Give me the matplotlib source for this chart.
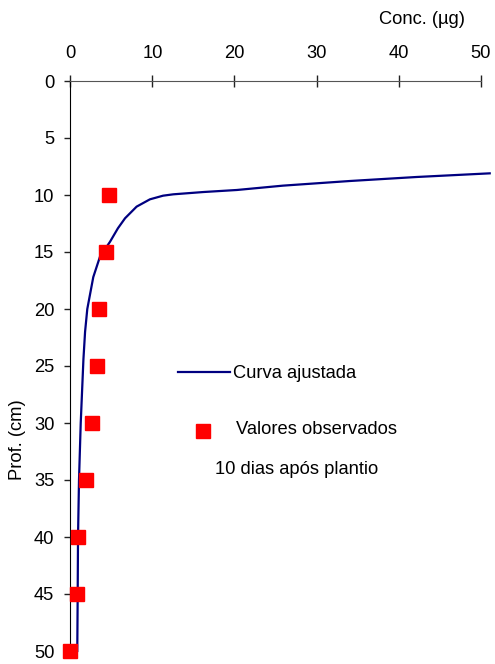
import matplotlib.pyplot as plt
from matplotlib.lines import Line2D

plt.rcParams['font.family'] = ['Liberation Sans', 'DejaVu Sans']

# observed values
obs_depth = [10, 15, 20, 25, 30, 35, 40, 45, 50]
obs_conc = [4.7, 4.3, 3.5, 3.3, 2.7, 1.95, 0.94, 0.85, 0.0]

# fitted curve
fit_depth = [8.1, 8.42, 8.77, 9.18, 9.56, 9.74, 9.94, 10.06, 10.38, 11.02,
             12.04, 12.92, 14.1, 15.4, 17.2, 20, 22, 24.4, 30, 35, 40, 45, 50]
fit_conc = [51.1, 42.2, 34.1, 25.9, 20.3, 16.2, 12.55, 11.3, 9.7, 8.08,
            6.67, 5.8, 4.84, 3.62, 2.8, 2.07, 1.8, 1.6, 1.27, 1.06, 0.94, 0.9, 0.85]

xticks = [0, 10, 20, 30, 40, 50]
yticks = [0, 5, 10, 15, 20, 25, 30, 35, 40, 45, 50]

FS = 13.2
W, H = 495, 664
fig = plt.figure(figsize=(W / 100, H / 100), dpi=100)
ax = fig.add_axes([70.3 / W, 1 - 651 / H, (480.7 - 70.3) / W, (651 - 81) / H])

ax.plot(fit_conc, fit_depth, color='#000080', lw=1.6, clip_on=False, zorder=3)
ax.plot(obs_conc, obs_depth, 's', color='#ff0000', ms=10.5, mec='#ff0000',
        clip_on=False, zorder=4, linestyle='none')

ax.set_xlim(0, 50)
ax.set_ylim(50, 0)
ax.xaxis.tick_top()
ax.set_xticks(xticks)
ax.set_yticks(yticks)
ax.tick_params(axis='x', direction='inout', length=8, width=1, pad=9.5,
               labelsize=FS, color='#222222')
ax.tick_params(axis='y', direction='out', length=4, width=1, pad=7.5,
               labelsize=FS, color='#222222')
for s in ['right', 'bottom']:
    ax.spines[s].set_visible(False)
ax.spines['top'].set_color('#555555')
ax.spines['left'].set_color('black')

fig.text(465 / W, 1 - 20 / H, 'Conc. (µg)', ha='right', va='center', fontsize=FS)
fig.text(18 / W, 1 - 440 / H, 'Prof. (cm)', ha='center', va='center',
         rotation=90, fontsize=FS)

# legend drawn by hand
fig.add_artist(Line2D([178 / W, 230 / W], [1 - 372 / H, 1 - 372 / H],
                      color='#000080', lw=1.6))
fig.text(233 / W, 1 - 373 / H, 'Curva ajustada', ha='left', va='center', fontsize=FS)
fig.add_artist(Line2D([203 / W], [1 - 431 / H], marker='s', color='#ff0000',
                      ms=10.5, linestyle='none'))
fig.text(236 / W, 1 - 430 / H, 'Valores observados', ha='left', va='center', fontsize=FS)
fig.text(215 / W, 1 - 470 / H, '10 dias após plantio', ha='left', va='center', fontsize=FS)

fig.savefig('out.png', dpi=100)
